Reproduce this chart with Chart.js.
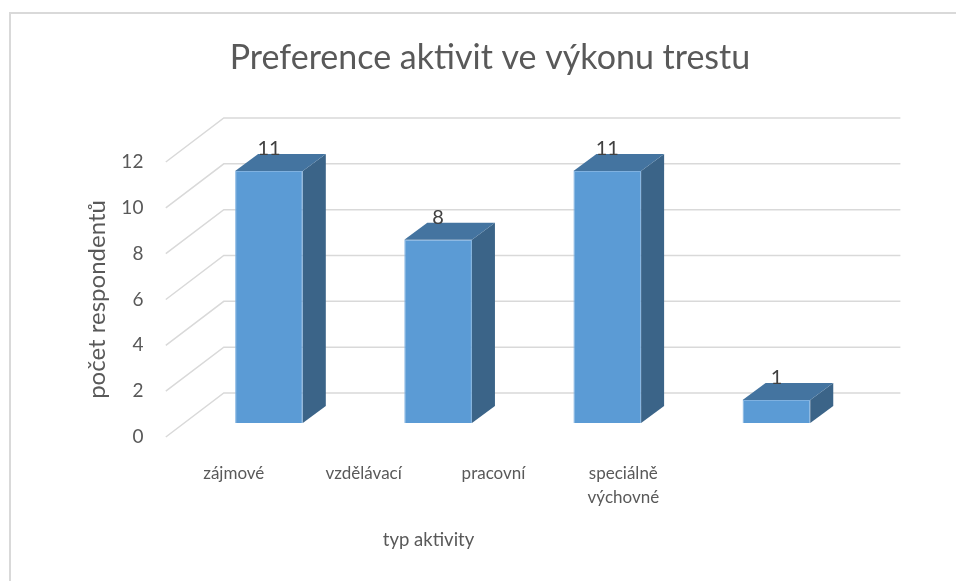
<!DOCTYPE html>
<html>
<head>
<meta charset="utf-8">
<script src="https://cdn.jsdelivr.net/npm/chart.js@4.4.1/dist/chart.umd.min.js"></script>
<style>
  html, body { margin: 0; padding: 0; background: #fff; overflow: hidden; }
  #frame { position: absolute; left: 9px; top: 12px; width: 1000px; height: 700px;
           border-left: 2px solid #d9d9d9; border-top: 2px solid #d9d9d9; }
  #activityChart { position: absolute; left: 0; top: 0; }
</style>
</head>
<body>
<div id="frame"></div>
<canvas id="activityChart" width="956" height="581"></canvas>
<script>
// data
const categories = ['zájmové', 'vzdělávací', 'pracovní', ['speciálně', 'výchovné']];
const respondents = [11, 8, 11, 1];
const yTicks = [0, 2, 4, 6, 8, 10, 12];

const FONT = 'Lato';
const BAR_DX = 23, BAR_DY = -17;      // depth of the boxes
const FLOOR_DX = 58, FLOOR_DY = -44;  // depth of the floor / walls
const FRONT_INSET = 18.6;             // bar plane sits behind the front edge
const DEPTH_UNITS = 0.61;             // same offset, in value units

// gridlines: diagonal on the side wall, flat on the back wall
const wallGrid = {
  id: 'wallGrid',
  beforeDatasetsDraw(chart) {
    const { ctx, chartArea } = chart;
    const y = chart.scales.y;
    const x0 = chartArea.left - FRONT_INSET;
    ctx.save();
    ctx.strokeStyle = '#d9d9d9';
    ctx.lineWidth = 1.5;
    yTicks.forEach(v => {
      const py = y.getPixelForValue(v);
      ctx.beginPath();
      ctx.moveTo(x0, py);
      ctx.lineTo(x0 + FLOOR_DX, py + FLOOR_DY);
      ctx.lineTo(chartArea.right + FLOOR_DX - FRONT_INSET, py + FLOOR_DY);
      ctx.stroke();
    });
    ctx.restore();
  }
};

// side and top faces of each bar plus the value above it
const boxes3d = {
  id: 'boxes3d',
  afterDatasetsDraw(chart) {
    const { ctx } = chart;
    const meta = chart.getDatasetMeta(0);
    ctx.save();
    meta.data.forEach((bar, i) => {
      const l = bar.x - bar.width / 2, r = bar.x + bar.width / 2;
      ctx.fillStyle = '#3b6488';
      ctx.beginPath();
      ctx.moveTo(r, bar.y);
      ctx.lineTo(r + BAR_DX, bar.y + BAR_DY);
      ctx.lineTo(r + BAR_DX, bar.base + BAR_DY);
      ctx.lineTo(r, bar.base);
      ctx.closePath();
      ctx.fill();
      ctx.fillStyle = '#4474a0';
      ctx.beginPath();
      ctx.moveTo(l, bar.y);
      ctx.lineTo(l + BAR_DX, bar.y + BAR_DY);
      ctx.lineTo(r + BAR_DX, bar.y + BAR_DY);
      ctx.lineTo(r, bar.y);
      ctx.closePath();
      ctx.fill();
      ctx.fillStyle = '#404040';
      ctx.font = '20px ' + FONT;
      ctx.textAlign = 'center';
      ctx.textBaseline = 'alphabetic';
      ctx.fillText(String(respondents[i]), bar.x, bar.y + BAR_DY + 1);
    });
    ctx.restore();
  }
};

// x title sits under the label row, not under the plot centre
const xTitle = {
  id: 'xTitle',
  afterDraw(chart) {
    const { ctx } = chart;
    const x2 = chart.scales.x2;
    ctx.save();
    ctx.fillStyle = '#595959';
    ctx.textAlign = 'center';
    ctx.textBaseline = 'middle';
    ctx.font = '18.5px ' + FONT;
    ctx.fillText('typ aktivity', x2.getPixelForValue(1.5), 540);
    ctx.restore();
  }
};

new Chart(document.getElementById('activityChart'), {
  type: 'bar',
  data: {
    labels: categories,
    datasets: [{
      label: 'počet respondentů',
      data: respondents,
      backgroundColor: '#5b9bd5',
      borderColor: '#7fb1e0',
      borderWidth: 1,
      barPercentage: 0.4,
      categoryPercentage: 1,
      xAxisID: 'x',
      yAxisID: 'yBar'
    }]
  },
  options: {
    responsive: false,
    animation: false,
    layout: { padding: { left: 24, right: 0, top: 0, bottom: 0 } },
    scales: {
      x: { display: false },
      x2: {
        type: 'linear',
        position: 'bottom',
        offset: false,
        min: -0.38,
        max: 4.83,
        afterBuildTicks: s => { s.ticks = categories.map((c, i) => ({ value: i })); },
        afterFit: s => { s.height = 144; },
        grid: { display: false, drawTicks: false },
        border: { display: false },
        ticks: {
          autoSkip: false,
          maxRotation: 0,
          padding: 24,
          color: '#595959',
          font: { family: FONT, size: 17, lineHeight: 1.45 },
          callback: v => categories[v]
        }
      },
      y: {
        min: 0,
        max: 12,
        afterBuildTicks: s => { s.ticks = yTicks.map(v => ({ value: v })); },
        afterFit: s => { s.width = 160.4; },
        grid: { display: false, drawTicks: false },
        border: { display: false },
        ticks: {
          padding: 41,
          color: '#595959',
          font: { family: FONT, size: 19 }
        },
        title: {
          display: true,
          text: 'počet respondentů',
          color: '#595959',
          font: { family: FONT, size: 24, lineHeight: 1.2 },
          padding: { top: 58.6, bottom: 0 }
        }
      },
      yBar: {
        position: 'right',
        min: -DEPTH_UNITS,
        max: 12 - DEPTH_UNITS,
        afterFit: s => { s.width = 95; },
        ticks: { display: false },
        grid: { display: false, drawTicks: false },
        border: { display: false }
      }
    },
    plugins: {
      legend: { display: false },
      tooltip: { enabled: false },
      title: {
        display: true,
        text: 'Preference aktivit ve výkonu trestu',
        color: '#595959',
        font: { family: FONT, size: 34, weight: 'normal', lineHeight: 1.2 },
        padding: { top: 37.6, bottom: 83.6 }
      }
    }
  },
  plugins: [wallGrid, boxes3d, xTitle]
});
</script>
</body>
</html>
